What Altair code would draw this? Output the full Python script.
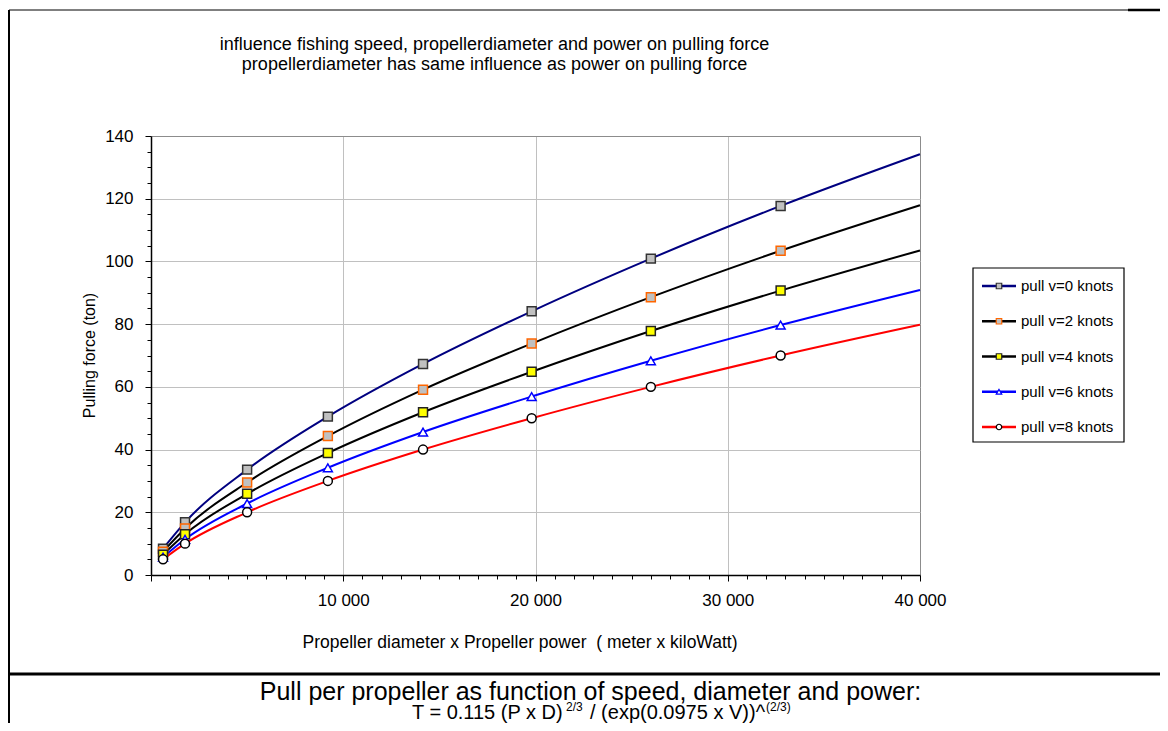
import altair as alt
import pandas as pd

# ---------------- data ----------------
series = ["pull v=0 knots", "pull v=2 knots", "pull v=4 knots", "pull v=6 knots", "pull v=8 knots"]
x_markers = [625, 1770, 5000, 9200, 14150, 19800, 26000, 32750]
x_end = 40000
v0 = [8.4, 16.8, 33.6, 50.5, 67.3, 84.1, 100.9, 117.7]
v2 = [7.4, 14.8, 29.5, 44.3, 59.1, 73.8, 88.6, 103.4]
v4 = [6.5, 13.0, 25.9, 38.9, 51.9, 64.8, 77.8, 90.7]
v6 = [5.7, 11.4, 22.8, 34.2, 45.6, 56.9, 68.3, 79.7]
v8 = [5.0, 10.0, 20.0, 30.0, 40.0, 50.0, 60.0, 70.0]
end_values = [134.2, 117.9, 103.5, 90.9, 79.8]

x_ticks = list(range(0, 40001, 1000))
y_ticks = list(range(0, 141, 5))

line_colors = ["#000080", "#000000", "#000000", "#0000FF", "#FF0000"]
marker_shapes = ["square", "square", "square", "triangle-up", "circle"]
marker_fills = ["#C0C0C0", "#C0C0C0", "#FFFF00", "#FFFFFF", "#FFFFFF"]
marker_strokes = ["#333333", "#FF6600", "#222222", "#0000FF", "#000000"]

title_1 = "influence fishing speed, propellerdiameter and power on pulling force"
title_2 = "propellerdiameter has same influence as power on pulling force"
x_title = "Propeller diameter x Propeller power \u00a0( meter x kiloWatt)"
y_title = "Pulling force (ton)"
bottom_1 = "Pull per propeller as function of speed, diameter and power:"
bottom_2a = "T = 0.115 (P x D)"
bottom_2b = "2/3"
bottom_2c = "/ (exp(0.0975 x V))^"
bottom_2d = "(2/3)"

# ---------------- tables ----------------
all_vals = [v0, v2, v4, v6, v8]
line_rows, pt_rows = [], []
for s, vals, ev in zip(series, all_vals, end_values):
    for x, y in zip(x_markers, vals):
        line_rows.append({"series": s, "x": x, "y": y})
        pt_rows.append({"series": s, "x": x, "y": y})
    line_rows.append({"series": s, "x": x_end, "y": ev})
df_line = pd.DataFrame(line_rows)
df_pts = pd.DataFrame(pt_rows)
df_leg = pd.DataFrame({"series": series})
one = pd.DataFrame({"k": [0]})

FONT = "Liberation Sans"
W, H = 769, 439

color_sc = alt.Scale(domain=series, range=line_colors)
shape_sc = alt.Scale(domain=series, range=marker_shapes)
fill_sc = alt.Scale(domain=series, range=marker_fills)
stroke_sc = alt.Scale(domain=series, range=marker_strokes)

x_axis = alt.Axis(
    values=x_ticks, format=",d",
    labelExpr="datum.value % 10000 == 0 && datum.value > 0 ? replace(datum.label, ',', ' ') : ''",
    tickSize={"condition": {"test": "datum.value % 10000 == 0", "value": 6}, "value": 4},
    tickColor="black", tickWidth=1,
    grid=True,
    gridOpacity={"condition": {"test": "datum.value % 10000 == 0 && datum.value > 0", "value": 1}, "value": 0},
    gridColor={"condition": {"test": "datum.value == 40000", "value": "#8c8c8c"}, "value": "#c0c0c0"},
    gridWidth=1,
    domainColor="black", domainWidth=1.5,
    labelFont=FONT, labelFontSize=17, labelColor="black", labelPadding=11,
    labelOverlap=False, labelFlush=False, title=None,
)
y_axis = alt.Axis(
    values=y_ticks,
    labelExpr="datum.value % 20 == 0 ? datum.label : ''",
    tickSize={"condition": {"test": "datum.value % 20 == 0", "value": 6}, "value": 4},
    tickColor="black", tickWidth=1,
    grid=True,
    gridOpacity={"condition": {"test": "datum.value % 20 == 0 && datum.value > 0", "value": 1}, "value": 0},
    gridColor={"condition": {"test": "datum.value == 140", "value": "#8c8c8c"}, "value": "#c0c0c0"},
    gridWidth=1,
    domainColor="black", domainWidth=1.5,
    labelFont=FONT, labelFontSize=17, labelColor="black", labelPadding=12,
    labelOverlap=False, title=None,
)

X = alt.X("x:Q", scale=alt.Scale(domain=[0, 40000], nice=False), axis=x_axis)
Y = alt.Y("y:Q", scale=alt.Scale(domain=[0, 140], nice=False), axis=y_axis)

lines = alt.Chart(df_line).mark_line(strokeWidth=2, interpolate="monotone").encode(
    x=X, y=Y, color=alt.Color("series:N", scale=color_sc, legend=None)
)
points = alt.Chart(df_pts).mark_point(filled=True, size=80, strokeWidth=1.5, opacity=1).encode(
    x=X, y=Y,
    shape=alt.Shape("series:N", scale=shape_sc, legend=None),
    fill=alt.Fill("series:N", scale=fill_sc, legend=None),
    stroke=alt.Stroke("series:N", scale=stroke_sc, legend=None),
)
main = alt.layer(lines, points)

# ---------------- legend ----------------
LY = alt.Y("series:N", scale=alt.Scale(type="point", domain=series, range=[150, 291], padding=0), axis=None)
leg_box = alt.Chart(one).mark_rect(fill="white", stroke="black", strokeWidth=1.2).encode(
    x=alt.value(822), x2=alt.value(973), y=alt.value(132), y2=alt.value(306)
)
leg_lines = alt.Chart(df_leg).mark_rule(strokeWidth=2.5).encode(
    x=alt.value(831), x2=alt.value(865), y=LY,
    color=alt.Color("series:N", scale=color_sc, legend=None),
)
leg_pts = alt.Chart(df_leg).mark_point(filled=True, size=30, strokeWidth=1.2, opacity=1).encode(
    x=alt.value(848), y=LY,
    shape=alt.Shape("series:N", scale=shape_sc, legend=None),
    fill=alt.Fill("series:N", scale=fill_sc, legend=None),
    stroke=alt.Stroke("series:N", scale=stroke_sc, legend=None),
)
leg_text = alt.Chart(df_leg).mark_text(align="left", baseline="middle", font=FONT, fontSize=15, color="black").encode(
    x=alt.value(870), y=LY, text="series:N"
)

# ---------------- annotations ----------------
def txt(t, x, y, size, align="center", baseline="alphabetic", angle=0):
    kw = dict(text=t, align=align, baseline=baseline, font=FONT, fontSize=size, color="black")
    if angle:
        kw["angle"] = angle
    return alt.Chart(one).mark_text(**kw).encode(x=alt.value(x), y=alt.value(y))

annots = [
    txt(title_1, 343.5, -86, 18),
    txt(title_2, 343.5, -66, 18),
    txt(x_title, 369, 512, 17.5),
    txt(y_title, -61.5, H / 2, 16, baseline="middle", angle=270),
    txt(bottom_1, 439.5, 564, 25),
    txt(bottom_2a, 261, 583, 20, align="left"),
    txt(bottom_2b, 415, 575, 12, align="left"),
    txt(bottom_2c, 439, 583, 20, align="left"),
    txt(bottom_2d, 615, 575, 12, align="left"),
]

frame = [
    alt.Chart(one).mark_rule(color="black", strokeWidth=2).encode(
        x=alt.value(-142), y=alt.value(-126), y2=alt.value(600)),
    alt.Chart(one).mark_rule(color="black", strokeWidth=1).encode(
        x=alt.value(-142), x2=alt.value(977), y=alt.value(-126)),
    alt.Chart(one).mark_rule(color="black", strokeWidth=2.5).encode(
        x=alt.value(977), x2=alt.value(1020), y=alt.value(-126)),
    alt.Chart(one).mark_rule(color="black", strokeWidth=3).encode(
        x=alt.value(-142), x2=alt.value(1020), y=alt.value(538)),
]

chart = alt.layer(
    main, leg_box, leg_lines, leg_pts, leg_text, *annots, *frame
).resolve_scale(y="independent").properties(
    width=W, height=H,
    padding={"left": 143, "top": 128, "right": 240, "bottom": 148},
    autosize=alt.AutoSizeParams(type="none"),
).configure_view(stroke="transparent")

chart.save("out.html", embed_options={"renderer": "svg", "actions": False})
